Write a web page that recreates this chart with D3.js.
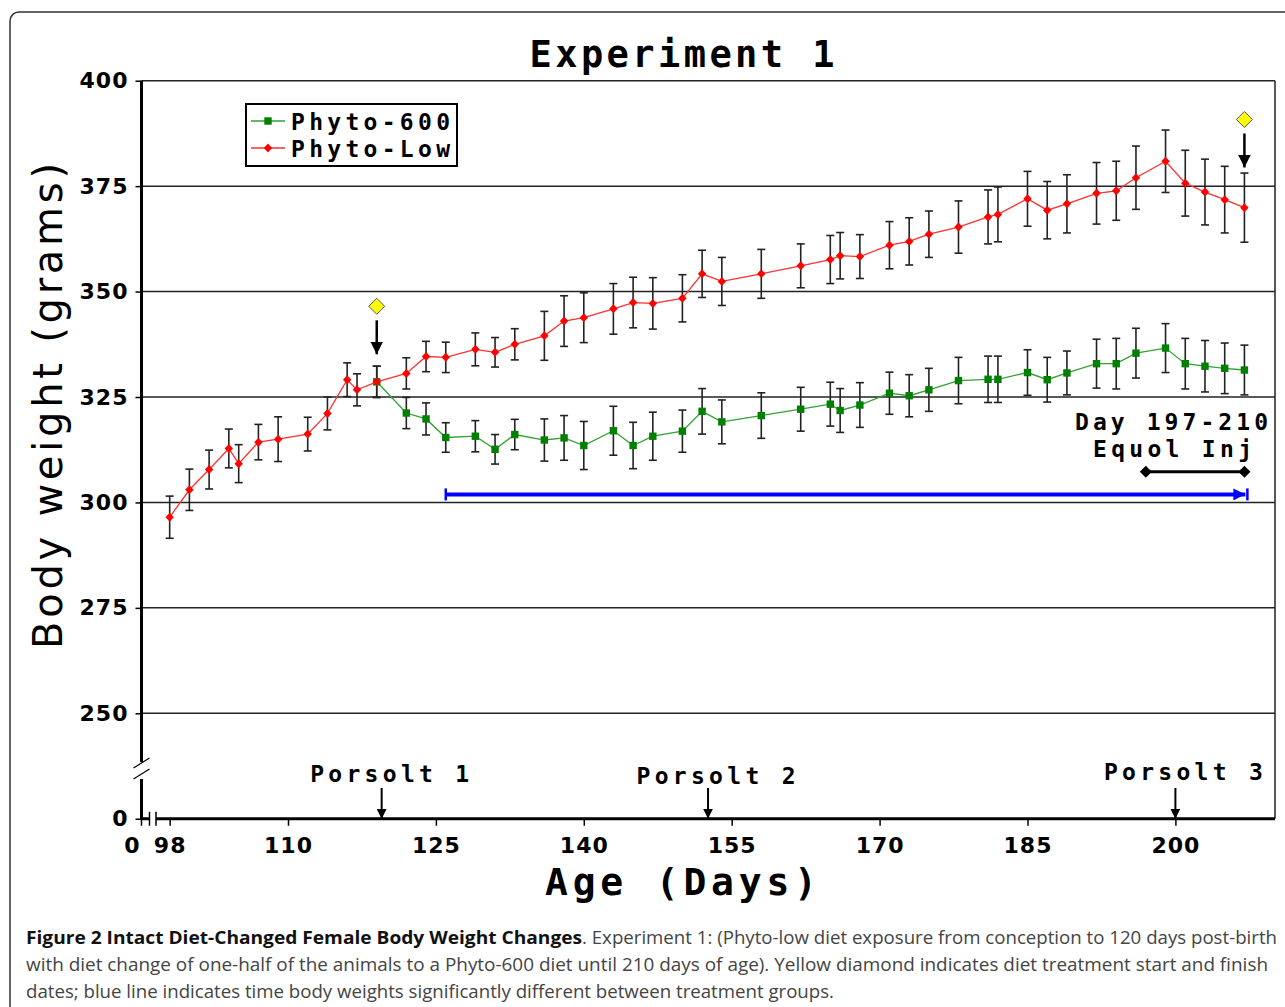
<!DOCTYPE html>
<html>
<head>
<meta charset="utf-8">
<script src="https://cdn.jsdelivr.net/npm/d3@7"></script>
<style>
  body { margin: 0; background: #fff; }
  svg { display: block; }
</style>
</head>
<body>
<svg id="chart" width="1285" height="1007"></svg>
<script>
// data (mean body weight, grams, and error bar half-width)
var days = [98,100,102,104,105,107,109,112,114,116,117,119,122,124,126,129,131,133,136,138,
            140,143,145,147,150,152,154,158,162,165,166,168,171,173,175,178,181,182,185,187,
            189,192,194,196,199,201,203,205,207];
var lowMean = [296.5,303.0,307.8,312.8,309.2,314.3,315.0,316.2,321.1,329.1,326.7,328.6,330.6,334.6,334.4,336.3,335.6,337.5,339.5,343.0,
               343.8,345.9,347.4,347.2,348.4,354.2,352.4,354.2,356.1,357.6,358.5,358.3,361.0,361.9,363.6,365.3,367.7,368.3,372.0,369.3,
               370.8,373.3,373.9,377.0,380.9,375.7,373.6,371.8,369.9];
var lowErr = [5.0,4.9,4.6,4.6,4.5,4.2,5.3,4.0,3.9,4.0,3.8,3.7,3.7,3.6,3.6,3.9,3.5,3.7,5.8,6.0,
              5.9,6.0,6.0,6.1,5.6,5.6,5.7,5.8,5.2,5.7,5.5,5.2,5.6,5.6,5.5,6.2,6.4,6.5,6.5,6.8,
              6.9,7.3,7.0,7.5,7.4,7.8,7.8,7.9,8.2];
// Phyto-600 starts at the diet change (day 119)
var hiDays = days.slice(11);
var hiMean = [328.6,321.2,319.8,315.4,315.7,312.6,316.1,314.8,315.3,313.5,317.0,313.5,315.7,316.9,321.6,319.1,320.6,322.1,323.3,321.8,
              323.1,325.9,325.3,326.7,328.9,329.2,329.2,330.8,329.1,330.7,332.9,332.9,335.4,336.6,332.9,332.3,331.8,331.4];
var hiErr = [3.7,3.7,3.8,3.5,3.7,3.5,3.6,5.0,5.3,5.7,5.8,5.5,5.7,5.0,5.4,5.2,5.4,5.2,5.2,5.2,
             5.3,5.0,5.0,5.1,5.5,5.5,5.5,5.4,5.3,5.2,5.8,6.0,5.9,5.8,6.0,6.1,6.0,5.9];

var yTicks = [250,275,300,325,350,375,400];
var xTicks = [98,110,125,140,155,170,185,200];
var porsoltDays = [119.5,152.6,200];
var porsoltLabels = ["Porsolt 1","Porsolt 2","Porsolt 3"];
var dietDiamondDays = [119,207];
var signifSpan = [126,207.3];
var equolSpan = [197,207];

var mono = "'DejaVu Sans Mono', monospace";
var sans = "'DejaVu Sans', sans-serif";

var svg = d3.select("#chart");

// scales: y has a break below 250, the "0" sits one step lower
var x = d3.scaleLinear().domain([110,200]).range([288,1175.4]);
var y = d3.scaleLinear().domain([250,400]).range([713.3,80.7]);
var plotLeft = 141.5, plotRight = 1275, plotBottom = y(225), plotTop = y(400);

//outer rounded frame
svg.append("rect")
    .attr("x",10).attr("y",12).attr("width",1300).attr("height",1010)
    .attr("rx",9).attr("fill","none").attr("stroke","#333").attr("stroke-width",1.5);

//title
svg.append("text")
    .attr("x",682).attr("y",67)
    .attr("text-anchor","middle")
    .attr("textLength",305).attr("lengthAdjust","spacing")
    .style("font-family",mono).style("font-weight","bold").style("font-size","37px")
    .text("Experiment 1");

//gridlines
svg.selectAll(".grid")
    .data(yTicks)
    .enter().append("line")
    .attr("x1",plotLeft).attr("x2",plotRight)
    .attr("y1",function(d){ return y(d); }).attr("y2",function(d){ return y(d); })
    .attr("stroke","#222").attr("stroke-width",1.5);
//right border
svg.append("line").attr("x1",plotRight).attr("x2",plotRight).attr("y1",plotTop).attr("y2",plotBottom)
    .attr("stroke","#222").attr("stroke-width",1.5);

//y axis with break
var yAxisG = svg.append("g").attr("transform","translate(" + plotLeft + ",0)");
yAxisG.call(d3.axisLeft(y).tickValues([225].concat(yTicks)).tickSize(6).tickPadding(7)
    .tickFormat(function(d){ return d == 225 ? "0" : d; }));
yAxisG.select(".domain").remove();
yAxisG.selectAll(".tick line").attr("stroke","#000").attr("stroke-width",1.5);
yAxisG.selectAll(".tick text")
    .style("font-family",sans).style("font-weight","bold").style("font-size","22px")
    .style("letter-spacing","1px").attr("fill","#000");
svg.append("line").attr("x1",plotLeft).attr("x2",plotLeft).attr("y1",plotTop).attr("y2",762)
    .attr("stroke","#000").attr("stroke-width",3);
svg.append("line").attr("x1",plotLeft).attr("x2",plotLeft).attr("y1",779).attr("y2",plotBottom+1)
    .attr("stroke","#000").attr("stroke-width",3);
[[758,768],[769,779]].forEach(function(s){
    svg.append("line").attr("x1",plotLeft-8).attr("x2",plotLeft+8).attr("y1",s[1]).attr("y2",s[0])
        .attr("stroke","#000").attr("stroke-width",1.2);
});

//x axis with break
var xAxisG = svg.append("g").attr("transform","translate(0," + plotBottom + ")");
xAxisG.call(d3.axisBottom(x).tickValues(xTicks).tickSize(7).tickPadding(12));
xAxisG.select(".domain").remove();
xAxisG.selectAll(".tick line").attr("stroke","#000").attr("stroke-width",1.5);
xAxisG.selectAll(".tick text")
    .style("font-family",sans).style("font-weight","bold").style("font-size","22px")
    .style("letter-spacing","1px").attr("fill","#000");
xAxisG.append("text").attr("x",132).attr("y",19).attr("dy","0.71em").attr("text-anchor","middle")
    .style("font-family",sans).style("font-weight","bold").style("font-size","22px").attr("fill","#000")
    .text("0");
svg.append("line").attr("x1",plotLeft).attr("x2",149.5).attr("y1",plotBottom).attr("y2",plotBottom)
    .attr("stroke","#000").attr("stroke-width",3);
svg.append("line").attr("x1",156).attr("x2",plotRight).attr("y1",plotBottom).attr("y2",plotBottom)
    .attr("stroke","#000").attr("stroke-width",3);
[plotLeft,149.5,156].forEach(function(px){
    svg.append("line").attr("x1",px).attr("x2",px).attr("y1",plotBottom-7).attr("y2",plotBottom+7)
        .attr("stroke","#000").attr("stroke-width",1.5);
});

//axis titles
svg.append("text")
    .attr("transform","translate(62,406) rotate(-90)")
    .attr("text-anchor","middle")
    .attr("textLength",486).attr("lengthAdjust","spacing")
    .style("font-family",sans).style("font-size","40px")
    .text("Body weight (grams)");
svg.append("text")
    .attr("x",681).attr("y",895)
    .attr("text-anchor","middle")
    .attr("textLength",272).attr("lengthAdjust","spacing")
    .style("font-family",mono).style("font-weight","bold").style("font-size","38px")
    .text("Age (Days)");

//arrow marker
var defs = svg.append("defs");
defs.append("marker").attr("id","ah").attr("viewBox","0 0 10 10").attr("refX",10).attr("refY",5)
    .attr("markerWidth",5).attr("markerHeight",5).attr("orient","auto")
    .append("path").attr("d","M0,0L10,5L0,10z").attr("fill","#000");
defs.append("marker").attr("id","ahb").attr("viewBox","0 0 10 10").attr("refX",10).attr("refY",5)
    .attr("markerWidth",3).attr("markerHeight",3).attr("orient","auto")
    .append("path").attr("d","M0,0L10,5L0,10z").attr("fill","#0000ff");

//significance span (blue)
svg.append("line")
    .attr("x1",x(signifSpan[0])).attr("x2",x(signifSpan[1]) - 2)
    .attr("y1",y(301.9)).attr("y2",y(301.9))
    .attr("stroke","#0000ff").attr("stroke-width",4).attr("marker-end","url(#ahb)");
[signifSpan[0],signifSpan[1]].forEach(function(d){
    svg.append("line").attr("x1",x(d)).attr("x2",x(d)).attr("y1",y(301.9)-6).attr("y2",y(301.9)+6)
        .attr("stroke","#0000ff").attr("stroke-width",2.5);
});

//equol injection span
svg.append("line")
    .attr("x1",x(equolSpan[0])).attr("x2",x(equolSpan[1]))
    .attr("y1",471.7).attr("y2",471.7)
    .attr("stroke","#000").attr("stroke-width",3);
svg.selectAll(".eqd")
    .data(equolSpan).enter().append("path")
    .attr("transform",function(d){ return "translate(" + x(d) + ",471.7)"; })
    .attr("d","M0,-6L6,0L0,6L-6,0Z").attr("fill","#000");
svg.append("text").attr("x",1268).attr("y",430).attr("text-anchor","end")
    .attr("textLength",193).attr("lengthAdjust","spacing")
    .style("font-family",mono).style("font-weight","bold").style("font-size","23px")
    .text("Day 197-210");
svg.append("text").attr("x",1252).attr("y",457).attr("text-anchor","end")
    .attr("textLength",159).attr("lengthAdjust","spacing")
    .style("font-family",mono).style("font-weight","bold").style("font-size","23px")
    .text("Equol Inj");

//series: line, error bars, markers
var diamond = "M0,-4.5L4.2,0L0,4.5L-4.2,0Z";
var square = "M-3.7,-3.7H3.7V3.7H-3.7Z";

function drawSeries(xs, means, errs, lineColor, markColor, shape){
    var pts = xs.map(function(d,i){ return {day:d, m:means[i], e:errs[i]}; });
    var g = svg.append("g");
    g.append("path").datum(pts)
        .attr("fill","none").attr("stroke",lineColor).attr("stroke-width",1.3)
        .attr("d", d3.line().x(function(d){ return x(d.day); }).y(function(d){ return y(d.m); }));
    var eb = g.selectAll(".eb").data(pts).enter().append("g").attr("stroke","#222").attr("stroke-width",1.6);
    eb.append("line")
        .attr("x1",function(d){ return x(d.day); }).attr("x2",function(d){ return x(d.day); })
        .attr("y1",function(d){ return y(d.m+d.e); }).attr("y2",function(d){ return y(d.m-d.e); });
    eb.append("line")
        .attr("x1",function(d){ return x(d.day)-4; }).attr("x2",function(d){ return x(d.day)+4; })
        .attr("y1",function(d){ return y(d.m+d.e); }).attr("y2",function(d){ return y(d.m+d.e); });
    eb.append("line")
        .attr("x1",function(d){ return x(d.day)-4; }).attr("x2",function(d){ return x(d.day)+4; })
        .attr("y1",function(d){ return y(d.m-d.e); }).attr("y2",function(d){ return y(d.m-d.e); });
    g.selectAll(".mk").data(pts).enter().append("path")
        .attr("transform",function(d){ return "translate(" + x(d.day) + "," + y(d.m) + ")"; })
        .attr("d",shape).attr("fill",markColor);
}
drawSeries(hiDays, hiMean, hiErr, "#33a033", "#008000", square);
drawSeries(days, lowMean, lowErr, "#ff3030", "#ff0000", diamond);

//diet start / finish diamonds with arrows
var dietY = [y(346.5), y(390.8)];
dietDiamondDays.forEach(function(d,i){
    var cx = x(d), cy = dietY[i];
    svg.append("path").attr("transform","translate(" + cx + "," + cy + ")")
        .attr("d","M0,-8L8,0L0,8L-8,0Z").attr("fill","#ffff00").attr("stroke","#555").attr("stroke-width",1);
    svg.append("line").attr("x1",cx).attr("x2",cx).attr("y1",cy+14).attr("y2",cy+48)
        .attr("stroke","#000").attr("stroke-width",2.5).attr("marker-end","url(#ah)");
});

//Porsolt test arrows
var porsoltY = [782,784,780];
porsoltDays.forEach(function(d,i){
    svg.append("text").attr("x",x(d)+8).attr("y",porsoltY[i]).attr("text-anchor","middle")
        .attr("textLength",159).attr("lengthAdjust","spacing")
        .style("font-family",mono).style("font-weight","bold").style("font-size","23px")
        .text(porsoltLabels[i]);
    svg.append("line").attr("x1",x(d)).attr("x2",x(d)).attr("y1",788).attr("y2",plotBottom)
        .attr("stroke","#000").attr("stroke-width",2).attr("marker-end","url(#ah)");
});

//legend
var lg = svg.append("g");
lg.append("rect").attr("x",246).attr("y",104).attr("width",211).attr("height",62)
    .attr("fill","#fff").attr("stroke","#000").attr("stroke-width",2);
var legendItems = [
    {name:"Phyto-600", line:"#33a033", mark:"#008000", shape:square},
    {name:"Phyto-Low", line:"#ff3030", mark:"#ff0000", shape:diamond}
];
legendItems.forEach(function(it,i){
    var ly = 121 + i*27;
    lg.append("line").attr("x1",251).attr("x2",285).attr("y1",ly).attr("y2",ly)
        .attr("stroke",it.line).attr("stroke-width",1.3);
    lg.append("path").attr("transform","translate(268," + ly + ")").attr("d",it.shape).attr("fill",it.mark);
    lg.append("text").attr("x",291).attr("y",ly+9)
        .attr("textLength",159).attr("lengthAdjust","spacing")
        .style("font-family",mono).style("font-weight","bold").style("font-size","23px")
        .text(it.name);
});

//caption
var cap = "'Open Sans', sans-serif";
svg.append("text").attr("x",26).attr("y",944)
    .attr("textLength",556).attr("lengthAdjust","spacingAndGlyphs")
    .style("font-family",cap).style("font-weight","bold").style("font-size","18px").attr("fill","#111")
    .text("Figure 2 Intact Diet-Changed Female Body Weight Changes");
svg.append("text").attr("x",582).attr("y",944)
    .attr("textLength",695).attr("lengthAdjust","spacingAndGlyphs")
    .style("font-family",cap).style("font-size","18px").attr("fill","#444")
    .text(". Experiment 1: (Phyto-low diet exposure from conception to 120 days post-birth");
svg.append("text").attr("x",26).attr("y",971)
    .attr("textLength",1242).attr("lengthAdjust","spacingAndGlyphs")
    .style("font-family",cap).style("font-size","18px").attr("fill","#444")
    .text("with diet change of one-half of the animals to a Phyto-600 diet until 210 days of age). Yellow diamond indicates diet treatment start and finish");
svg.append("text").attr("x",26).attr("y",998)
    .attr("textLength",808).attr("lengthAdjust","spacingAndGlyphs")
    .style("font-family",cap).style("font-size","18px").attr("fill","#444")
    .text("dates; blue line indicates time body weights significantly different between treatment groups.");
</script>
</body>
</html>
